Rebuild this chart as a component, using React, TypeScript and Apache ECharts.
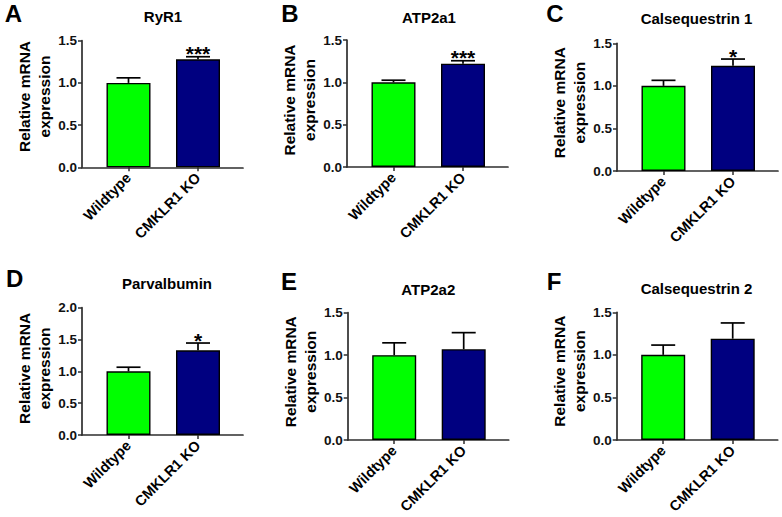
import React, { useEffect, useRef } from 'react';
import * as echarts from 'echarts';

// ---------- data ----------
const categories = ['Wildtype', 'CMKLR1 KO'];
const panelLetters = ['A', 'B', 'C', 'D', 'E', 'F'];
const geneNames = ['RyR1', 'ATP2a1', 'Calsequestrin 1', 'Parvalbumin', 'ATP2a2', 'Calsequestrin 2'];

const ryr1Mean = [1.0, 1.28];
const ryr1Sem = [0.06, 0.03];
const ryr1Sig = ['', '***'];

const atp2a1Mean = [1.0, 1.22];
const atp2a1Sem = [0.025, 0.035];
const atp2a1Sig = ['', '***'];

const casq1Mean = [1.0, 1.235];
const casq1Sem = [0.065, 0.08];
const casq1Sig = ['', '*'];

const parvMean = [1.0, 1.33];
const parvSem = [0.065, 0.115];
const parvSig = ['', '*'];

const atp2a2Mean = [1.0, 1.07];
const atp2a2Sem = [0.145, 0.195];
const atp2a2Sig = ['', ''];

const casq2Mean = [1.0, 1.19];
const casq2Sem = [0.115, 0.185];
const casq2Sig = ['', ''];

const yMaxes = [1.5, 1.5, 1.5, 2.0, 1.5, 1.5];
const yInterval = 0.5;
const yAxisTitle = 'Relative mRNA\nexpression';

const means = [ryr1Mean, atp2a1Mean, casq1Mean, parvMean, atp2a2Mean, casq2Mean];
const sems = [ryr1Sem, atp2a1Sem, casq1Sem, parvSem, atp2a2Sem, casq2Sem];
const sigs = [ryr1Sig, atp2a1Sig, casq1Sig, parvSig, atp2a2Sig, casq2Sig];

// ---------- layout / style ----------
const barColors = ['#00ff00', '#000080'];
const FONT = "Arial, 'Liberation Sans', Helvetica, sans-serif";
const AXIS_COLOR = '#2e2e2e';
const AXIS_W = 161;
const BAR_OFFSET = 11.75;
const BAR_GRID_W = 139;

const layout = [
  { left: 82, top: 40.7, bottom: 167.3, nameShift: 7.5, titleX: 163, titleY: 16.2, letterX: 13.5, letterY: 13.4 },
  { left: 347, top: 40, bottom: 167, nameShift: 3.5, titleX: 429, titleY: 17.5, letterX: 290, letterY: 13.4 },
  { left: 617, top: 43.3, bottom: 171, nameShift: 4.5, titleX: 696.5, titleY: 18, letterX: 555, letterY: 13.8 },
  { left: 82, top: 307.7, bottom: 435, nameShift: 3, titleX: 167, titleY: 283.8, letterX: 14.7, letterY: 278 },
  { left: 347.7, top: 312.7, bottom: 440, nameShift: 4.6, titleX: 428.3, titleY: 289.7, letterX: 289, letterY: 281 },
  { left: 616.7, top: 312.3, bottom: 440, nameShift: 5, titleX: 696.5, titleY: 288, letterX: 554, letterY: 281 },
];

function buildOption() {
  const grid: any[] = [];
  const xAxis: any[] = [];
  const yAxis: any[] = [];
  const series: any[] = [];
  const graphic: any[] = [];

  layout.forEach((L, i) => {
    const h = L.bottom - L.top;
    const frameIdx = 2 * i;
    const barIdx = 2 * i + 1;
    grid.push({ left: L.left, top: L.top, width: AXIS_W, height: h });
    grid.push({ left: L.left + BAR_OFFSET, top: L.top, width: BAR_GRID_W, height: h });

    // frame axes
    xAxis.push({
      gridIndex: frameIdx,
      type: 'value',
      min: 0,
      max: 1,
      axisLine: { show: true, lineStyle: { color: AXIS_COLOR, width: 1.7 } },
      axisTick: { show: false },
      axisLabel: { show: false },
      splitLine: { show: false },
    });
    yAxis.push({
      gridIndex: frameIdx,
      type: 'value',
      min: 0,
      max: yMaxes[i],
      interval: yInterval,
      axisLine: { show: true, lineStyle: { color: AXIS_COLOR, width: 1.7 } },
      axisTick: { show: true, length: 4, lineStyle: { color: AXIS_COLOR, width: 1.5 } },
      axisLabel: {
        margin: 5,
        color: '#111',
        fontFamily: FONT,
        fontWeight: 'bold',
        fontSize: 13.5,
        formatter: (v: number) => v.toFixed(1),
      },
      splitLine: { show: false },
      name: yAxisTitle,
      nameLocation: 'middle',
      nameRotate: 90,
      nameGap: 24.4,
      nameTextStyle: {
        color: '#000',
        fontFamily: FONT,
        fontWeight: 'bold',
        fontSize: 15.5,
        lineHeight: 20,
        padding: [0, 0, 0, 2 * L.nameShift],
      },
    });

    // bar axes
    xAxis.push({
      gridIndex: barIdx,
      type: 'category',
      data: categories,
      axisLine: { show: false },
      axisTick: { show: true, alignWithLabel: true, length: 4, lineStyle: { color: AXIS_COLOR, width: 1.5 } },
      axisLabel: {
        interval: 0,
        rotate: 45,
        margin: 8,
        color: '#000',
        fontFamily: FONT,
        fontWeight: 'bold',
        fontSize: 14.5,
      },
      splitLine: { show: false },
    });
    yAxis.push({
      gridIndex: barIdx,
      type: 'value',
      min: 0,
      max: yMaxes[i],
      interval: yInterval,
      show: false,
    });

    series.push({
      type: 'bar',
      xAxisIndex: barIdx,
      yAxisIndex: barIdx,
      barWidth: 44,
      data: means[i].map((v, k) => ({
        value: v,
        itemStyle: { color: barColors[k], borderColor: '#000', borderWidth: 1.4 },
      })),
      z: 2,
    });

    const sigList = sigs[i];
    series.push({
      type: 'custom',
      xAxisIndex: barIdx,
      yAxisIndex: barIdx,
      z: 3,
      encode: { x: 0, y: 1 },
      data: means[i].map((v, k) => [k, v, sems[i][k]]),
      renderItem: (params: any, api: any) => {
        const idx = api.value(0);
        const mean = api.value(1);
        const sem = api.value(2);
        const base = api.coord([idx, mean]);
        const top = api.coord([idx, mean + sem]);
        const cap = 12;
        const children: any[] = [
          { type: 'line', shape: { x1: base[0], y1: base[1], x2: base[0], y2: top[1] }, style: { stroke: '#000', lineWidth: 1.7 } },
          { type: 'line', shape: { x1: base[0] - cap, y1: top[1], x2: base[0] + cap, y2: top[1] }, style: { stroke: '#000', lineWidth: 1.7 } },
        ];
        const s = sigList[params.dataIndex];
        if (s) {
          children.push({
            type: 'text',
            x: base[0],
            y: top[1] - 3,
            style: {
              text: s,
              align: 'center',
              verticalAlign: 'middle',
              font: `bold 21px ${FONT}`,
              fill: '#000',
            },
          });
        }
        return { type: 'group', children };
      },
    });

    graphic.push({
      type: 'text',
      x: L.titleX,
      y: L.titleY,
      style: {
        text: geneNames[i],
        align: 'center',
        verticalAlign: 'middle',
        font: `bold 15px ${FONT}`,
        fill: '#000',
      },
    });
    graphic.push({
      type: 'text',
      x: L.letterX,
      y: L.letterY,
      style: {
        text: panelLetters[i],
        align: 'center',
        verticalAlign: 'middle',
        font: `bold 24px ${FONT}`,
        fill: '#000',
      },
    });
  });

  return {
    animation: false,
    backgroundColor: '#ffffff',
    grid,
    xAxis,
    yAxis,
    series,
    graphic,
  };
}

export default function App() {
  const ref = useRef<HTMLDivElement>(null);
  useEffect(() => {
    document.body.style.margin = '0';
    if (!ref.current) return;
    const chart = echarts.init(ref.current, undefined, { renderer: 'svg' });
    chart.setOption(buildOption() as any);
    return () => {
      chart.dispose();
    };
  }, []);
  return <div ref={ref} style={{ width: 782, height: 517 }} />;
}
